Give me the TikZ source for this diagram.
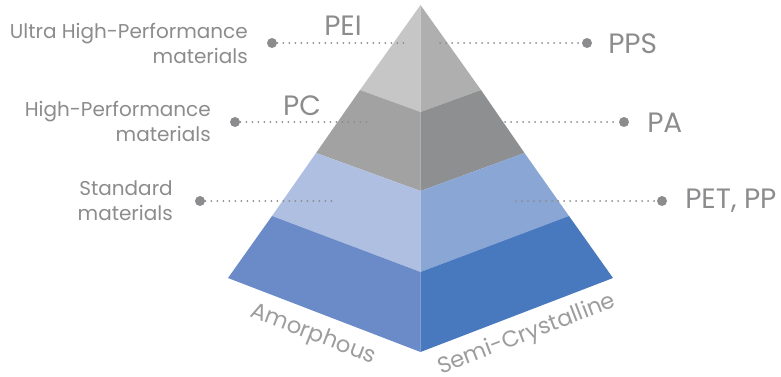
\documentclass[tikz,border=0pt]{standalone}
\usepackage{fontspec}
\setmainfont{Poppins}

\definecolor{topL}{RGB}{198,198,198}
\definecolor{topR}{RGB}{175,175,176}
\definecolor{highL}{RGB}{162,162,163}
\definecolor{highR}{RGB}{142,143,144}
\definecolor{stdL}{RGB}{175,191,225}
\definecolor{stdR}{RGB}{138,166,213}
\definecolor{baseL}{RGB}{106,139,200}
\definecolor{baseR}{RGB}{72,120,190}
\definecolor{labelgrey}{RGB}{140,140,142}

\tikzset{
  sidelabel/.style={anchor=east,align=right,inner sep=0pt,text=labelgrey,
    font=\fontsize{15}{18.75}\selectfont},
  polylabel/.style={inner sep=0pt,text=labelgrey,font=\fontsize{21}{24}\selectfont},
  baselabel/.style={inner sep=0pt,text=labelgrey!85,font=\fontsize{17}{20}\selectfont},
  leaderdot/.style={circle,fill=labelgrey,inner sep=0pt,minimum size=7.5pt},
  leader/.style={draw=labelgrey,line width=1.5pt,line cap=round,dash pattern=on 0pt off 4.5pt},
}

\begin{document}
\begin{tikzpicture}[x=0.75pt,y=0.75pt,yscale=-1,xscale=1]
	\useasboundingbox (0,0) rectangle (781,376);
	
	%Pyramid corners
	\coordinate (apex) at (420.5,5);
	\coordinate (L1) at (360,90);  \coordinate (C1) at (420.5,112); \coordinate (R1) at (481,90);
	\coordinate (L2) at (316,153); \coordinate (C2) at (420.5,191); \coordinate (R2) at (524.5,153);
	\coordinate (L3) at (272,216); \coordinate (C3) at (420.5,272); \coordinate (R3) at (569,216);
	\coordinate (L4) at (228,278); \coordinate (C4) at (420.5,352); \coordinate (R4) at (613,278);
	
	%Shape: Top band
	\fill [topL] (apex) -- (L1) -- (C1) -- cycle ;
	\fill [topR] (apex) -- (C1) -- (R1) -- cycle ;
	%Shape: Second band
	\fill [highL] (L1) -- (L2) -- (C2) -- (C1) -- cycle ;
	\fill [highR] (C1) -- (C2) -- (R2) -- (R1) -- cycle ;
	%Shape: Third band
	\fill [stdL] (L2) -- (L3) -- (C3) -- (C2) -- cycle ;
	\fill [stdR] (C2) -- (C3) -- (R3) -- (R2) -- cycle ;
	%Shape: Base band
	\fill [baseL] (L3) -- (L4) -- (C4) -- (C3) -- cycle ;
	\fill [baseR] (C3) -- (C4) -- (R4) -- (R3) -- cycle ;
	
	%Leader lines, left
	\node [leaderdot] (dotUltra) at (272,43) {};
	\coordinate (endUltra) at (407,43);
	\draw [leader] (dotUltra) -- (endUltra) ;
	\node [leaderdot] (dotHigh) at (235,122) {};
	\coordinate (endHigh) at (372,122);
	\draw [leader] (dotHigh) -- (endHigh) ;
	\node [leaderdot] (dotStd) at (200,201) {};
	\coordinate (endStd) at (337,201);
	\draw [leader] (dotStd) -- (endStd) ;
	
	%Leader lines, right
	\node [leaderdot] (dotPPS) at (587,43) {};
	\coordinate (startPPS) at (440,43);
	\draw [leader] (startPPS) -- (dotPPS) ;
	\node [leaderdot] (dotPA) at (624,122) {};
	\coordinate (startPA) at (505,122);
	\draw [leader] (startPA) -- (dotPA) ;
	\node [leaderdot] (dotPET) at (662,201) {};
	\coordinate (startPET) at (516,201);
	\draw [leader] (startPET) -- (dotPET) ;
	
	% Text Node
	\node [sidelabel] (ultra) at (248,43) {Ultra High-Performance\\materials};
	% Text Node
	\node [sidelabel] (high) at (211,121) {High-Performance\\materials};
	% Text Node
	\node [sidelabel] (std) at (173,201) {Standard\\materials};
	% Text Node
	\node [polylabel] (pei) at (343,26) {PEI};
	% Text Node
	\node [polylabel] (pc) at (302,106) {PC};
	% Text Node
	\node [polylabel,anchor=west] (pps) at (608,44) {PPS};
	% Text Node
	\node [polylabel,anchor=west] (pa) at (647,123) {PA};
	% Text Node
	\node [polylabel,anchor=west] (pet) at (685,201) {PET, PP};
	% Text Node
	\node [baselabel,rotate=-21] (amorph) at (313,335) {Amorphous};
	% Text Node
	\node [baselabel,rotate=21] (semi) at (527,335) {Semi-Crystalline};
	
\end{tikzpicture}
\end{document}
